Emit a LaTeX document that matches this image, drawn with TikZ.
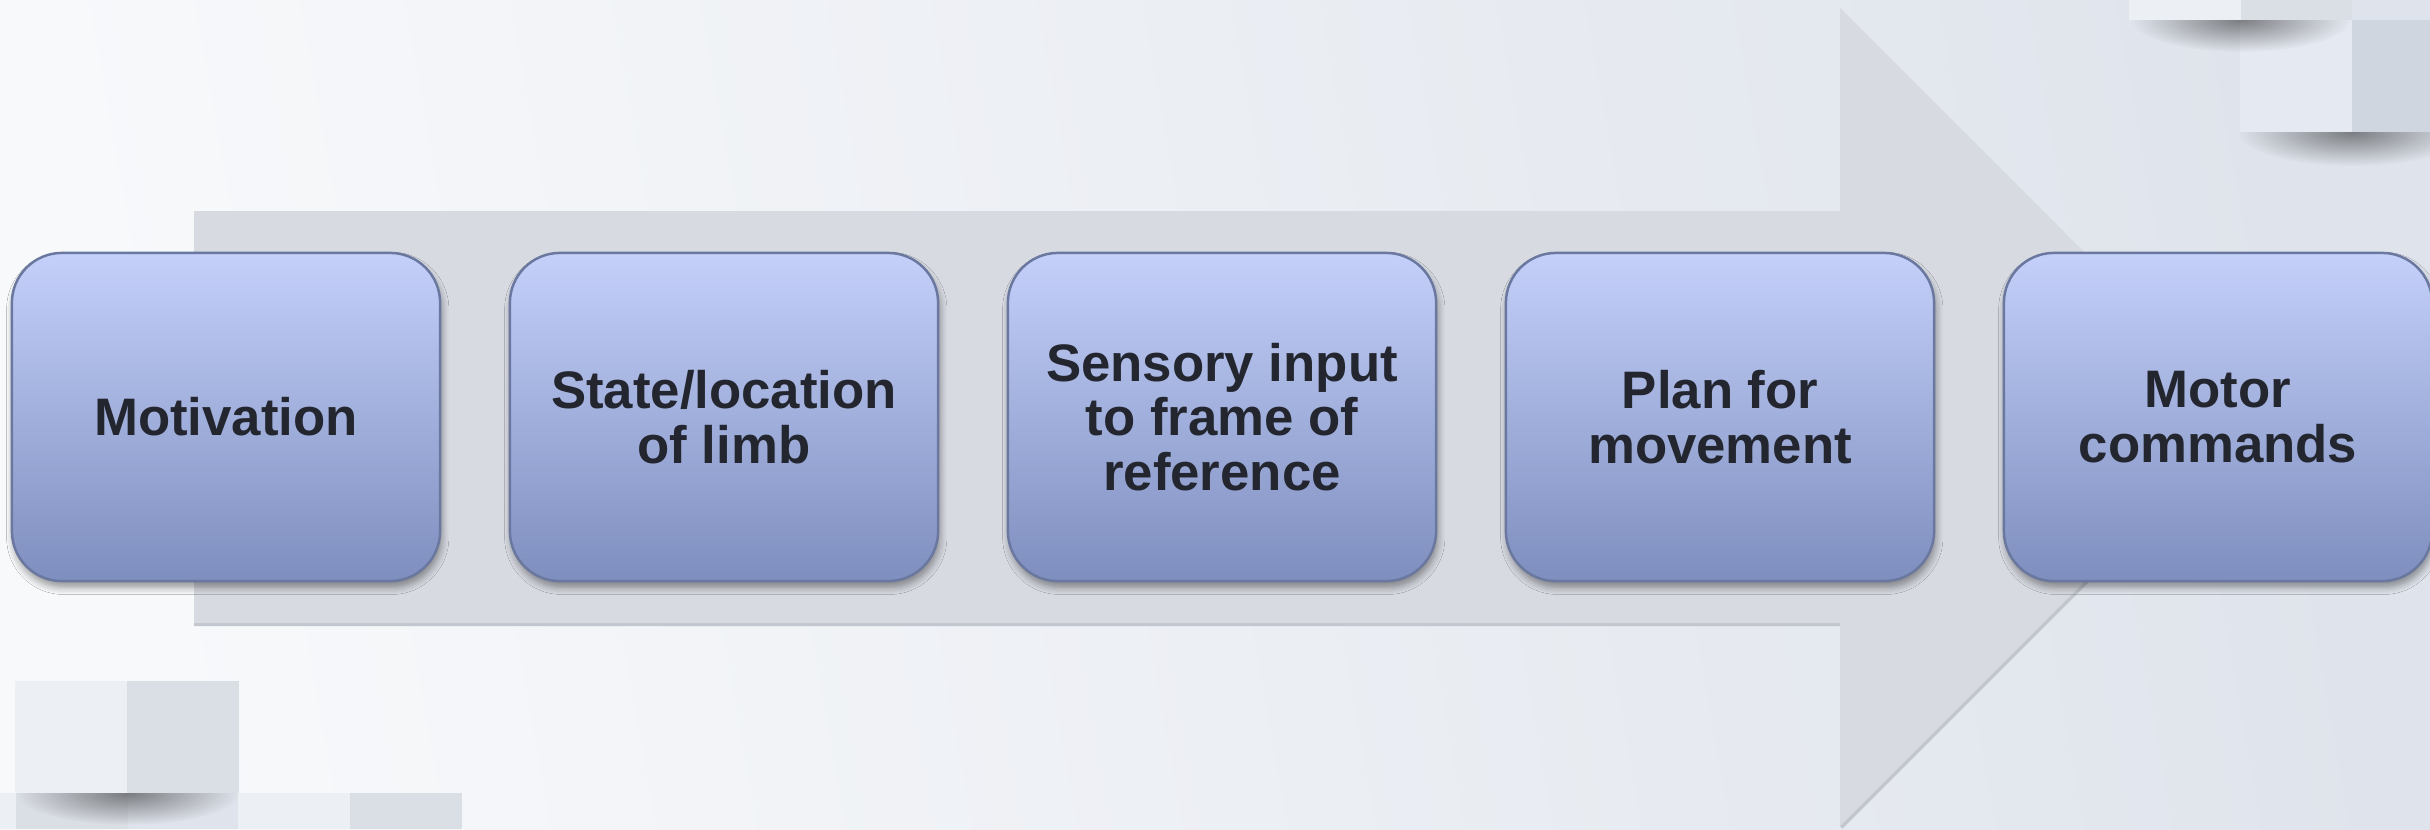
\documentclass[tikz,border=0pt]{standalone}
\usepackage{fontspec}
\setmainfont{Liberation Sans}
\usetikzlibrary{shadows.blur,fadings}
\definecolor{bgL}{HTML}{F8F9FB}
\definecolor{bgR}{HTML}{DFE4EC}
\definecolor{arrowc}{HTML}{D7DAE1}
\definecolor{arrowedge}{HTML}{C2C6CE}
\definecolor{boxT}{HTML}{C4D0FA}
\definecolor{boxB}{HTML}{7E8EBE}
\definecolor{boxline}{HTML}{6A789F}
\definecolor{txt}{HTML}{23262E}
\definecolor{sqL}{HTML}{ECEFF4}
\definecolor{sqD}{HTML}{DADEE5}
\definecolor{sqM}{HTML}{DFE3EB}
\definecolor{sqL2}{HTML}{E5E9F1}
\definecolor{sqD2}{HTML}{D0D6DF}
\tikzfading[name=fuzzy, inner color=transparent!0, outer color=transparent!100]
\tikzset{
  stepbox/.style={draw=boxline, line width=0.7pt, rounded corners=0.5cm,
    minimum width=4.28cm, minimum height=3.28cm, inner sep=0pt,
    top color=boxT, bottom color=boxB, align=center, text=txt,
    font=\bfseries\fontsize{15}{15.6}\selectfont,
    blur shadow={shadow blur steps=6, shadow xshift=0.5pt, shadow yshift=-1.8pt, shadow opacity=40, shadow blur radius=2pt}},
  sqshadow/.style={fill=black, opacity=0.45, path fading=fuzzy}
}
\begin{document}
\begin{tikzpicture}[x=0.01cm,y=-0.01cm]
\useasboundingbox (0,0) rectangle (2430,829);
% background
\shade[left color=bgL, right color=bgR, shading angle=100] (0,0) rectangle (2430,829);
% top-right decorative squares
\fill[sqL] (2129,0) rectangle (2241,20);
\fill[sqD] (2241,0) rectangle (2352,20);
\fill[sqM] (2352,0) rectangle (2430,20);
\fill[sqL2] (2240,20) rectangle (2352,132);
\fill[sqD2] (2352,20) rectangle (2430,132);
\begin{scope}
  \clip (2120,20) rectangle (2360,60);
  \fill[sqshadow] (2241,20) ellipse [x radius=110, y radius=32];
\end{scope}
\begin{scope}
  \clip (2230,132) rectangle (2430,175);
  \fill[sqshadow] (2352,132) ellipse [x radius=115, y radius=34];
\end{scope}
% bottom-left decorative squares
\fill[sqL] (15,681) rectangle (127,793);
\fill[sqD] (127,681) rectangle (239,793);
\fill[sqL] (0,793) rectangle (16,829);
\fill[sqD] (16,793) rectangle (128,829);
\fill[sqM] (128,793) rectangle (238,829);
\fill[sqL] (238,793) rectangle (350,829);
\fill[sqD] (350,793) rectangle (462,829);
\begin{scope}
  \clip (10,793) rectangle (245,829);
  \fill[sqshadow] (128,793) ellipse [x radius=112, y radius=32];
\end{scope}
% big arrow
\draw[arrowedge, line width=1.2pt] (194,624) -- (1840,624) (1841,827) -- (2250,418);
\fill[arrowc]
  (194,211) -- (1840,211) -- (1840,8) -- (2249,417) -- (1840,826) -- (1840,623) -- (194,623) -- cycle;
% boxes
\node[stepbox] (b1) at (226,417) {Motivation};
\node[stepbox] (b2) at (724,417) {State/location\\of limb};
\node[stepbox] (b3) at (1222,417) {Sensory input\\to frame of\\reference};
\node[stepbox] (b4) at (1720,417) {Plan for\\movement};
\node[stepbox] (b5) at (2218,417) {Motor\\commands};
\end{tikzpicture}
\end{document}
